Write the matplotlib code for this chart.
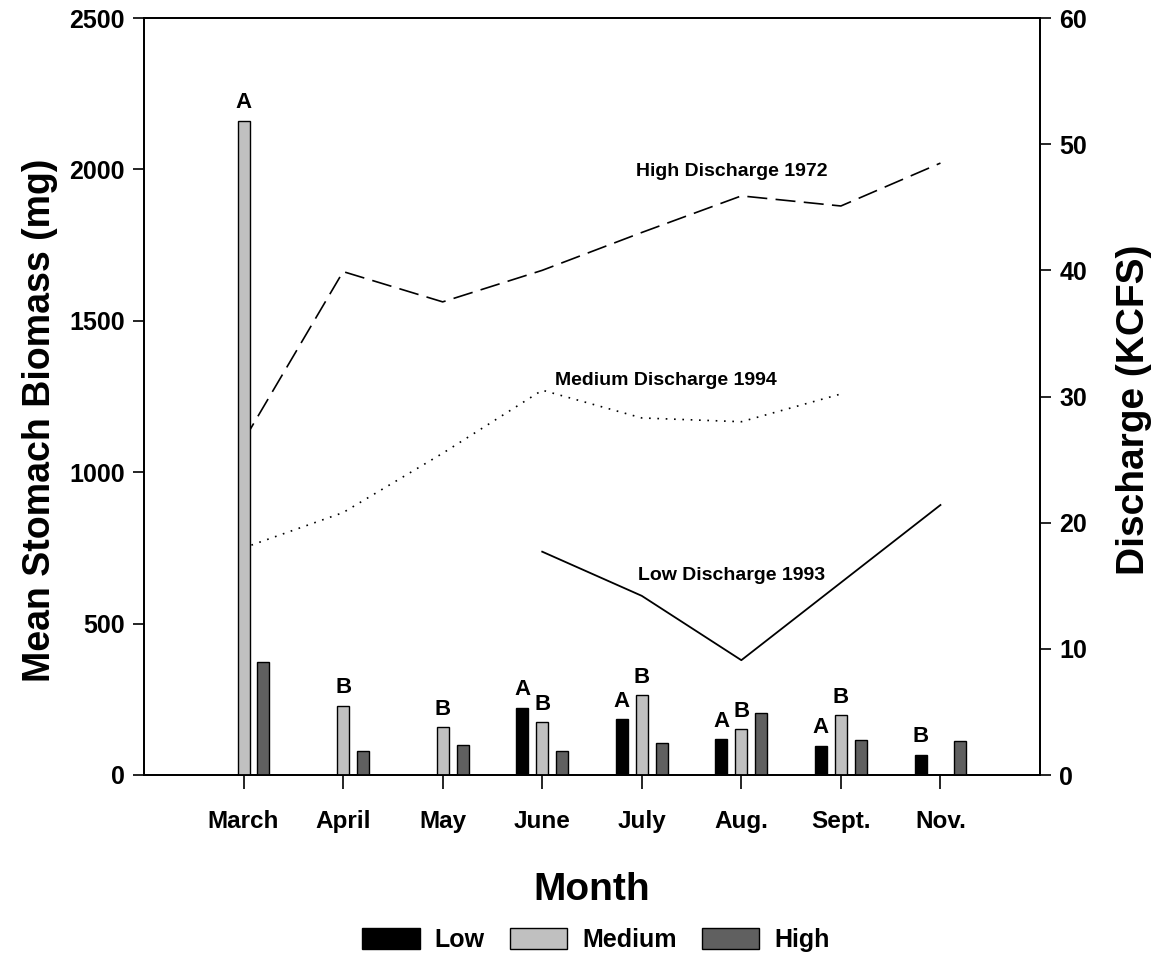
import matplotlib
matplotlib.use("Agg")
import matplotlib.pyplot as plt
from matplotlib.patches import Patch
import numpy as np

plt.rcParams['font.family'] = ['Liberation Sans', 'DejaVu Sans']
plt.rcParams['font.weight'] = 'bold'

months = ["March", "April", "May", "June", "July", "Aug.", "Sept.", "Nov."]
low_vals = [0, 0, 0, 222, 184, 118, 96, 66]
medium_vals = [2160, 229, 157, 174, 263, 151, 197, 0]
high_vals = [372, 80, 99, 79, 107, 204, 115, 112]

low_letters = ["", "", "", "A", "A", "A", "A", "B"]
medium_letters = ["A", "B", "B", "B", "B", "B", "B", ""]

high_q_x = [0, 1, 2, 3, 4, 5, 6, 7]
high_q = [26.5, 39.9, 37.5, 40.0, 43.0, 45.9, 45.1, 48.5]
medium_q_x = [0, 1, 2, 3, 4, 5, 6]
medium_q = [18.0, 20.8, 25.5, 30.5, 28.3, 28.0, 30.2]
low_q_x = [3, 4, 5, 7]
low_q = [17.7, 14.2, 9.1, 21.4]

fig = plt.figure(figsize=(11.6, 9.56), dpi=100)
ax = fig.add_axes([144/1160, 1-775/956, (1040-144)/1160, (775-18)/956])
ax2 = ax.twinx()
ax.set_zorder(ax2.get_zorder() + 1)
ax.patch.set_visible(False)

x = np.arange(len(months))
w = 0.12
off = 0.2
colors = {"Low": "#000000", "Medium": "#c0c0c0", "High": "#606060"}

def draw(vals, dx, col):
    xs = [xi + dx for xi, v in zip(x, vals) if v > 0]
    vs = [v for v in vals if v > 0]
    ax.bar(xs, vs, width=w, color=col, edgecolor='black', linewidth=1.0)

draw(low_vals, -off, colors["Low"])
draw(medium_vals, 0, colors["Medium"])
draw(high_vals, off, colors["High"])

for xi, v, t in zip(x, low_vals, low_letters):
    if t:
        ax.text(xi - off, v + 25, t, ha='center', va='bottom', fontsize=16, fontweight='bold')
for xi, v, t in zip(x, medium_vals, medium_letters):
    if t:
        ax.text(xi, v + 25, t, ha='center', va='bottom', fontsize=16, fontweight='bold')

ax2.plot(high_q_x, high_q, color='black', lw=1.2, linestyle=(0, (12, 5)))
ax2.plot(medium_q_x, medium_q, color='black', lw=1.2, linestyle=(0, (1, 4)))
ax2.plot(low_q_x, low_q, color='black', lw=1.3, linestyle='-')

ax2.text(4.9, 47.8, "High Discharge 1972", ha='center', va='center', fontsize=14, fontweight='bold')
ax2.text(4.24, 31.3, "Medium Discharge 1994", ha='center', va='center', fontsize=14, fontweight='bold')
ax2.text(4.9, 15.8, "Low Discharge 1993", ha='center', va='center', fontsize=14, fontweight='bold')

ax.set_xlim(-1, 8)
ax.set_ylim(0, 2500)
ax2.set_ylim(0, 60)
ax.set_yticks([0, 500, 1000, 1500, 2000, 2500])
ax2.set_yticks([0, 10, 20, 30, 40, 50, 60])
ax.set_xticks(x)
ax.set_xticklabels(months)

for a in (ax, ax2):
    for s in a.spines.values():
        s.set_linewidth(1.3)
ax.tick_params(axis='y', direction='out', length=8, width=1.2, labelsize=18, pad=6)
ax2.tick_params(axis='y', direction='out', length=8, width=1.2, labelsize=18, pad=6)
ax.tick_params(axis='x', direction='out', length=10, width=1.2, labelsize=17.5, pad=15)
for lbl in ax.get_xticklabels() + ax.get_yticklabels() + ax2.get_yticklabels():
    lbl.set_fontweight('bold')

ax.set_ylabel("Mean Stomach Biomass (mg)", fontsize=27, fontweight='bold')
ax.yaxis.set_label_coords(-0.096, 0.469)
ax2.set_ylabel("Discharge (KCFS)", fontsize=28, fontweight='bold')
ax2.yaxis.set_label_coords(1.085, 0.482)
ax.set_xlabel("Month", fontsize=28, fontweight='bold')
ax.xaxis.set_label_coords(0.5, -0.128)

handles = [Patch(facecolor=colors[k], edgecolor='black', linewidth=1.0, label=k) for k in ["Low", "Medium", "High"]]
fig.legend(handles=handles, loc='center', bbox_to_anchor=(596/1160, 1-940/956), ncol=3, frameon=False,
           prop={'size': 18, 'weight': 'bold'}, handlelength=2.3, handleheight=0.9,
           columnspacing=1.0, handletextpad=0.6, borderpad=0.1)

fig.savefig("out.png", dpi=100)
